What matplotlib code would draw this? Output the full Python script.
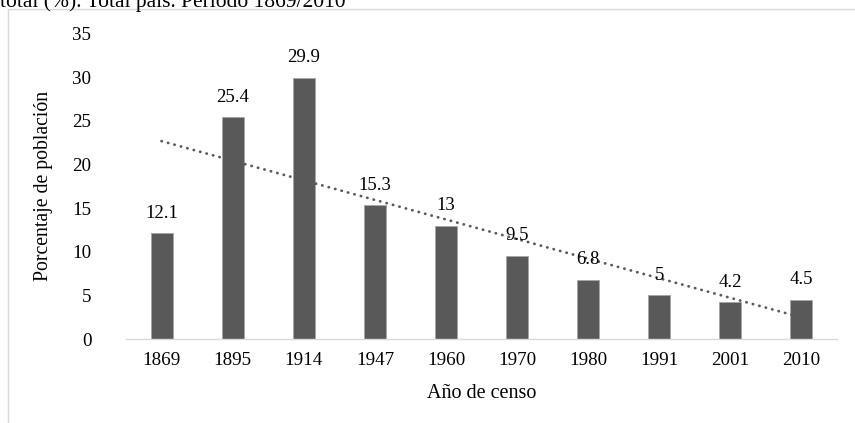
import matplotlib
matplotlib.use("Agg")
import matplotlib.pyplot as plt
import numpy as np
from matplotlib.patches import Rectangle

years = ["1869", "1895", "1914", "1947", "1960", "1970", "1980", "1991", "2001", "2010"]
values = [12.1, 25.4, 29.9, 15.3, 13, 9.5, 6.8, 5, 4.2, 4.5]
labels = ["12.1", "25.4", "29.9", "15.3", "13", "9.5", "6.8", "5", "4.2", "4.5"]
yticks = [0, 5, 10, 15, 20, 25, 30, 35]

plt.rcParams['font.family'] = ['Liberation Serif', 'DejaVu Serif']

fig = plt.figure(figsize=(8.55, 4.23), dpi=100)
ax = fig.add_axes([126/855, 1-339/423, (837-126)/855, (339-33.5)/423])

# outer chart frame (partially visible)
fig.patches.append(Rectangle((7.5/855, -0.2), 1.2, 1.2 - 9.5/423,
                             transform=fig.transFigure, fill=False,
                             edgecolor='#d9d9d9', linewidth=1.0))
fig.text(0.0, 1 - 7/423, "total (%). Total país. Período 1869/2010",
         fontsize=15.5, ha='left', va='baseline', color='#000000')

x = np.arange(len(years))
ax.bar(x, values, width=0.31, color='#595959', edgecolor='#a6a6a6', linewidth=0.6, zorder=2)

# linear trendline
coef = np.polyfit(x, values, 1)
ax.plot(x, np.polyval(coef, x), color='#595959', linewidth=2.0,
        linestyle=(0, (0.1, 2.3)), dash_capstyle='round', zorder=3)

for xi, v, lab in zip(x, values, labels):
    ax.annotate(lab, (xi, v), xytext=(0, 14.5), textcoords='offset points',
                ha='center', va='center', fontsize=13.5)

ax.set_xlim(-0.5, len(years) - 0.5)
ax.set_ylim(0, 35)
ax.set_yticks(yticks)
ax.set_xticks(x)
ax.set_xticklabels(years)
ax.tick_params(axis='y', length=0, pad=25, labelsize=13.7)
ax.tick_params(axis='x', length=0, pad=9, labelsize=13.7)
for s in ['top', 'right', 'left']:
    ax.spines[s].set_visible(False)
ax.spines['bottom'].set_color('#d9d9d9')
ax.spines['bottom'].set_linewidth(1.0)

ax.set_xlabel("Año de censo", fontsize=14.5)
ax.xaxis.set_label_coords(0.5, -(384-339)/(339-33.5), transform=ax.transAxes)
ax.set_ylabel("Porcentaje de población", fontsize=14.2)
ax.yaxis.set_label_coords(-(126-53)/(837-126), 0.5, transform=ax.transAxes)

fig.savefig("out.png", dpi=100)
